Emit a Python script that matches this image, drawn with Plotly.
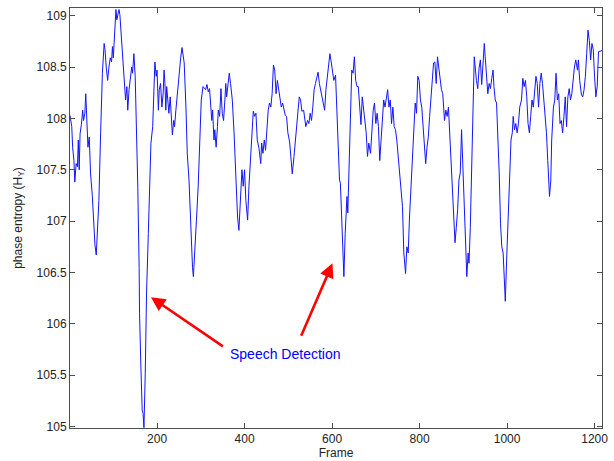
import plotly.graph_objects as go

# Frame positions and phase entropy values (vertices of the curve)
frames = [1, 5, 7, 10, 12, 15, 18, 20, 22, 24, 27, 30, 32, 35, 37, 39, 42, 45, 48, 52,
          56, 58, 61, 64, 67, 71, 75, 79, 81, 84, 87, 90, 93, 96, 98, 100, 103, 106, 108, 111,
          113, 115, 119, 122, 125, 128, 131, 133, 136, 138, 142, 144, 147, 150, 153, 156, 159, 160, 163, 166,
          168, 170, 173, 176, 180, 186, 190, 193, 195, 198, 200, 203, 205, 208, 211, 214, 216, 218, 220, 222,
          225, 227, 230, 233, 235, 238, 240, 243, 247, 250, 254, 257, 259, 262, 266, 269, 273, 277, 281, 283,
          286, 290, 294, 298, 301, 305, 311, 314, 317, 320, 323, 325, 327, 330, 332, 335, 338, 340, 343, 346,
          349, 352, 355, 357, 359, 362, 365, 368, 372, 376, 380, 384, 387, 391, 394, 397, 400, 403, 407, 410,
          414, 418, 420, 423, 426, 429, 433, 437, 439, 442, 445, 448, 451, 454, 457, 460, 463, 466, 469, 472,
          475, 478, 481, 484, 487, 490, 493, 496, 499, 503, 506, 509, 513, 516, 519, 522, 525, 528, 531, 535,
          537, 540, 544, 547, 550, 553, 556, 559, 562, 565, 568, 571, 574, 577, 580, 583, 586, 589, 592, 595,
          598, 601, 604, 608, 611, 614, 617, 619, 622, 625, 627, 630, 632, 634, 636, 639, 642, 645, 648, 651,
          654, 657, 660, 663, 666, 669, 672, 675, 678, 681, 684, 688, 691, 694, 697, 700, 703, 706, 709, 712,
          715, 718, 721, 724, 727, 730, 733, 736, 739, 742, 745, 748, 753, 757, 761, 764, 768, 771, 774, 777,
          780, 784, 787, 790, 793, 796, 799, 802, 805, 808, 811, 814, 817, 820, 823, 826, 829, 832, 835, 838,
          841, 844, 848, 850, 853, 857, 860, 863, 866, 869, 872, 875, 878, 881, 884, 887, 890, 893, 896, 899,
          902, 905, 908, 911, 913, 916, 919, 922, 925, 930, 933, 936, 939, 942, 945, 948, 950, 953, 956, 959,
          962, 965, 968, 970, 973, 976, 979, 982, 985, 988, 991, 994, 996, 999, 1002, 1006, 1009, 1012, 1014, 1017,
          1020, 1023, 1026, 1029, 1033, 1036, 1039, 1042, 1045, 1048, 1051, 1054, 1057, 1060, 1063, 1066, 1069, 1072, 1075, 1078,
          1081, 1084, 1087, 1090, 1093, 1097, 1100, 1102, 1106, 1109, 1112, 1115, 1118, 1121, 1124, 1127, 1130, 1133, 1136, 1139,
          1142, 1145, 1148, 1151, 1154, 1157, 1161, 1163, 1166, 1170, 1173, 1176, 1179, 1182, 1185, 1188, 1191, 1194, 1197, 1200,
          1203, 1206, 1209, 1217]

entropy = [108.03, 107.92, 107.72, 107.59, 107.38, 107.56, 107.53, 107.79, 107.50, 107.85, 107.94, 108.08, 107.98, 108.05, 108.24, 107.98, 107.72, 107.82, 107.46, 107.25,
           106.84, 106.77, 106.67, 106.88, 107.20, 107.86, 108.44, 108.73, 108.67, 108.49, 108.37, 108.50, 108.59, 108.55, 108.70, 108.59, 108.83, 109.06, 108.96, 109.02,
           109.06, 109.01, 108.76, 108.57, 108.34, 108.18, 108.31, 108.08, 108.28, 108.36, 108.50, 108.44, 108.63, 108.41, 107.92, 107.33, 106.55, 106.10, 105.58, 105.16,
           105.13, 104.99, 105.52, 106.30, 106.88, 107.76, 107.92, 108.44, 108.55, 108.41, 108.47, 108.08, 108.28, 108.34, 108.11, 108.25, 108.47, 108.34, 108.08, 108.31,
           108.18, 108.05, 108.21, 108.02, 107.84, 107.98, 107.92, 108.08, 108.28, 108.39, 108.59, 108.69, 108.64, 108.54, 108.11, 107.66, 107.40, 106.94, 106.55, 106.46,
           106.75, 107.01, 107.34, 107.86, 108.18, 108.31, 108.28, 108.33, 108.26, 108.29, 108.11, 107.98, 108.08, 107.79, 107.89, 107.72, 107.92, 108.08, 108.02, 108.29,
           108.05, 107.98, 108.18, 108.34, 108.21, 108.34, 108.44, 108.34, 108.18, 107.86, 107.37, 107.04, 106.91, 107.34, 107.50, 107.34, 107.50, 107.20, 107.01, 107.34,
           107.66, 107.92, 108.07, 108.02, 108.05, 107.79, 107.71, 107.56, 107.76, 107.66, 107.79, 107.69, 107.92, 108.08, 108.15, 108.11, 108.24, 108.52, 108.47, 108.24,
           108.37, 108.28, 108.18, 108.11, 108.15, 108.08, 108.03, 108.02, 107.86, 107.77, 107.63, 107.46, 107.63, 107.76, 107.89, 108.05, 108.21, 108.18, 108.07, 108.08,
           108.00, 107.92, 107.98, 107.95, 108.05, 107.98, 108.11, 108.28, 108.34, 108.41, 108.45, 108.34, 108.28, 108.21, 108.15, 108.08, 108.28, 108.41, 108.47, 108.63,
           108.55, 108.44, 108.37, 108.42, 108.02, 107.59, 107.40, 107.37, 107.08, 106.69, 106.46, 106.88, 107.08, 107.24, 107.08, 107.53, 108.08, 108.47, 108.44, 108.60,
           108.37, 108.31, 108.31, 108.15, 107.94, 108.21, 108.08, 108.02, 107.86, 107.63, 107.76, 107.66, 107.92, 108.08, 108.15, 107.95, 108.05, 107.92, 107.59, 107.76,
           107.98, 108.18, 108.11, 108.18, 108.28, 108.11, 108.18, 107.95, 108.11, 107.92, 107.89, 107.79, 107.53, 107.37, 107.14, 106.69, 106.49, 106.75, 106.69, 107.04,
           107.33, 107.59, 107.86, 108.15, 108.05, 108.41, 108.37, 108.18, 108.11, 107.89, 107.79, 107.56, 107.72, 107.82, 108.02, 108.18, 108.41, 108.54, 108.55, 108.34,
           108.60, 108.50, 108.31, 108.28, 108.24, 107.98, 108.08, 108.02, 108.11, 107.86, 107.59, 107.24, 107.08, 106.79, 106.94, 107.11, 107.40, 107.47, 107.89, 107.53,
           107.04, 106.62, 106.46, 106.69, 106.59, 106.94, 107.53, 108.18, 108.60, 108.37, 108.29, 108.49, 108.57, 108.33, 108.50, 108.73, 108.60, 108.41, 108.24, 108.34,
           108.29, 108.39, 108.47, 108.31, 108.18, 108.15, 107.86, 107.47, 106.98, 106.75, 106.69, 106.36, 106.22, 106.62, 107.04, 107.43, 107.79, 107.86, 108.02, 107.89,
           107.95, 107.86, 107.95, 108.11, 108.18, 108.39, 108.31, 108.37, 108.21, 107.95, 107.86, 108.02, 108.18, 108.11, 108.31, 108.41, 108.34, 108.11, 108.34, 108.44,
           108.34, 108.18, 108.02, 107.86, 107.59, 107.24, 107.40, 107.79, 108.11, 108.18, 108.44, 108.18, 108.24, 107.95, 107.98, 107.86, 108.02, 108.21, 107.92, 108.21,
           108.29, 108.18, 108.24, 108.41, 108.50, 108.57, 108.47, 108.57, 108.37, 108.23, 108.21, 108.28, 108.41, 108.63, 108.86, 108.76, 108.57, 108.73, 108.67, 108.41,
           108.21, 108.31, 108.65, 108.66]

x_ticks = [200, 400, 600, 800, 1000, 1200]
y_ticks = [105, 105.5, 106, 106.5, 107, 107.5, 108, 108.5, 109]
y_tick_labels = ["105", "105.5", "106", "106.5", "107", "107.5", "108", "108.5", "109"]

annotation_text = "Speech Detection"
text_pos = (494, 105.71)
arrow_tails = [(354, 105.77), (528, 105.87)]
arrow_heads = [(186, 106.26), (601, 106.59)]

font_family = "Liberation Sans, Arial, Helvetica, sans-serif"
axis_color = "#4d4d4d"
text_color = "#222222"

fig = go.Figure()
fig.add_trace(go.Scatter(x=frames, y=entropy, mode="lines",
                         line=dict(color="#1414ff", width=1), showlegend=False,
                         hoverinfo="skip"))

for (tx, ty), (hx, hy) in zip(arrow_tails, arrow_heads):
    fig.add_annotation(x=hx, y=hy, ax=tx, ay=ty, xref="x", yref="y",
                       axref="x", ayref="y", text="", showarrow=True,
                       arrowhead=2, arrowsize=1.1, arrowwidth=2.6,
                       arrowcolor="#ff0000", standoff=0, startstandoff=0)

fig.add_annotation(x=text_pos[0], y=text_pos[1], xref="x", yref="y",
                   text=annotation_text, showarrow=False,
                   font=dict(family=font_family, size=14, color="#0000ff"))

axis_common = dict(showline=True, linecolor=axis_color, linewidth=1, mirror="ticks",
                   ticks="inside", ticklen=5, tickcolor=axis_color, showgrid=False,
                   zeroline=False, tickfont=dict(family=font_family, size=12, color=text_color))

fig.update_xaxes(range=[1, 1217], tickmode="array", tickvals=x_ticks,
                 title=dict(text="Frame", standoff=2,
                            font=dict(family=font_family, size=12, color=text_color)),
                 **axis_common)
fig.update_yaxes(range=[104.986, 109.075], tickmode="array", tickvals=y_ticks,
                 ticktext=y_tick_labels,
                 title=dict(text="phase entropy (H<sub>Y</sub>)", standoff=11,
                            font=dict(family=font_family, size=12, color=text_color)),
                 **axis_common)

fig.update_layout(width=614, height=461, margin=dict(l=70, r=12, t=8, b=33, autoexpand=False),
                  plot_bgcolor="white", paper_bgcolor="white",
                  font=dict(family=font_family, color=text_color))

fig.write_html("out.html", config={"displayModeBar": False},
               post_script="document.body.style.margin='0';document.body.style.overflow='hidden';")
